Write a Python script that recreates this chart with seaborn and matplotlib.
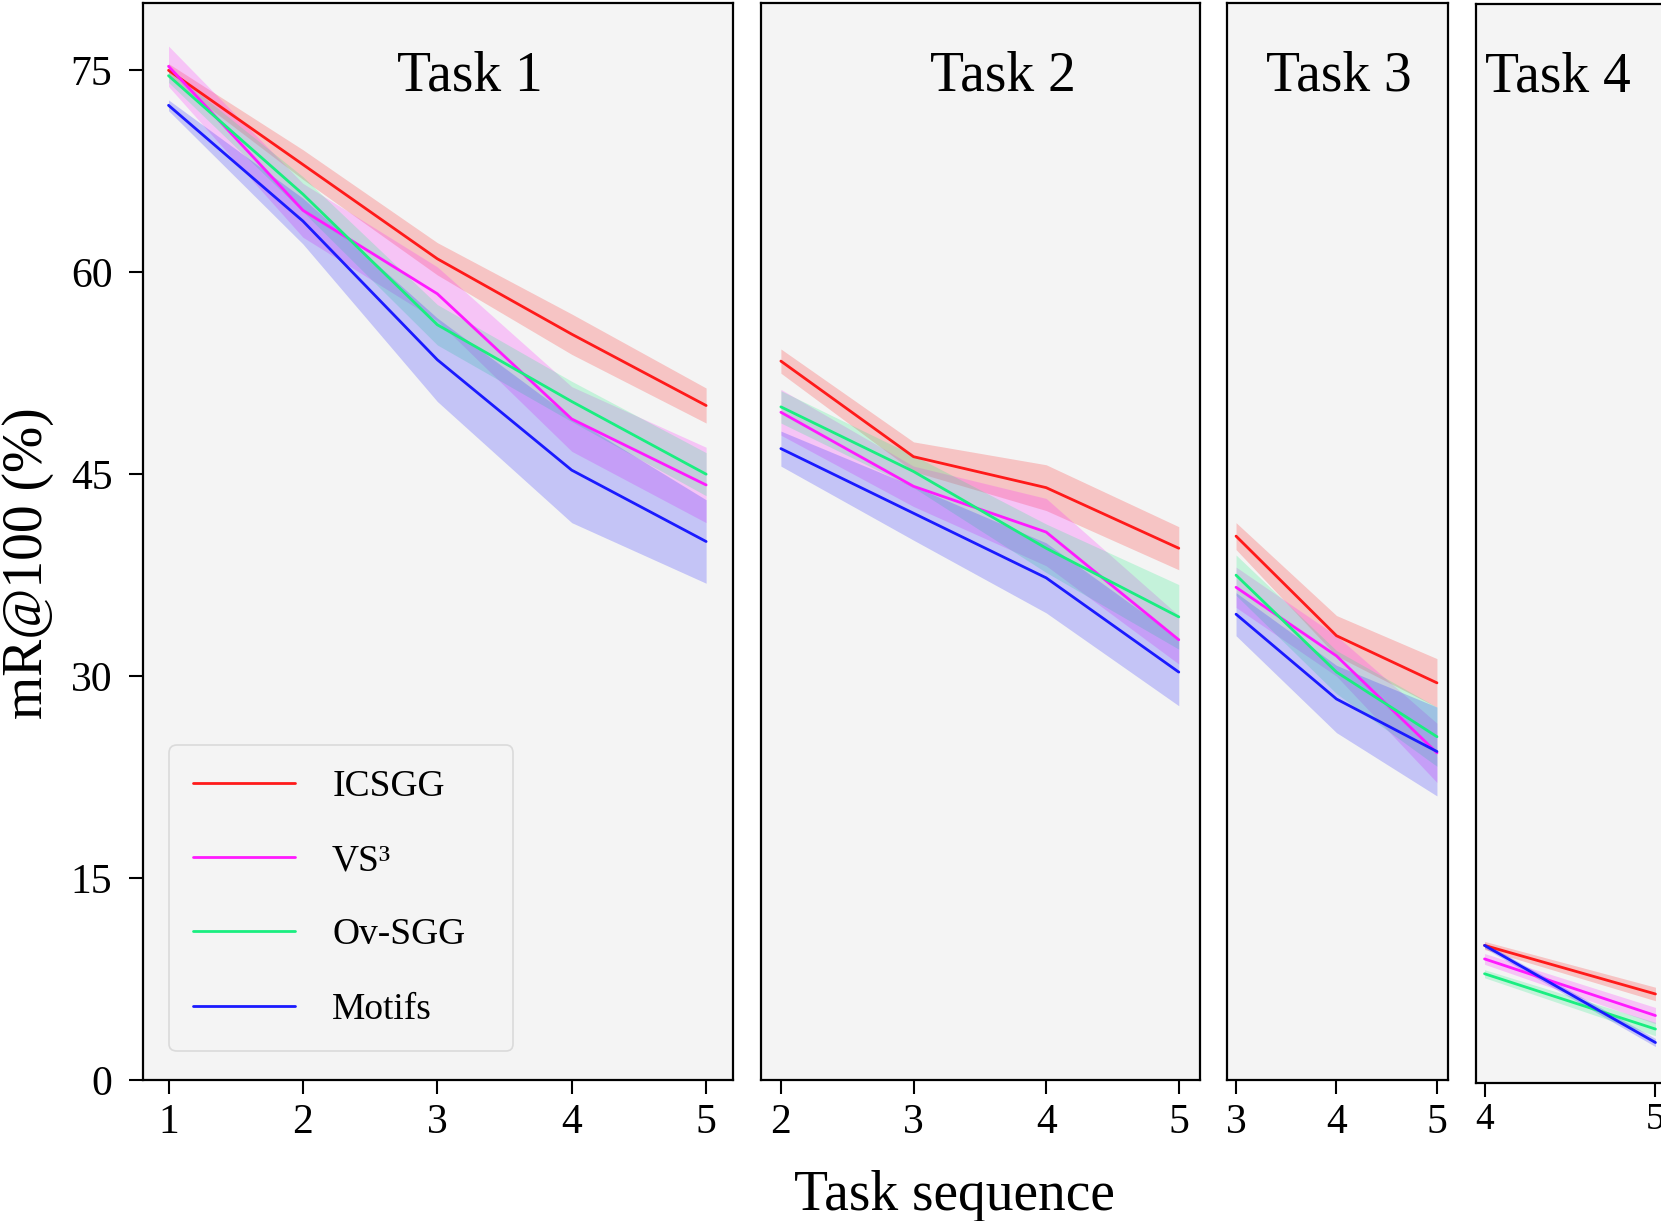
import matplotlib
matplotlib.use("Agg")
import matplotlib.pyplot as plt
import seaborn as sns
import pandas as pd

# ---------------- data ----------------
methods = ["ICSGG", "VS³", "Ov-SGG", "Motifs"]
task_names = ["Task 1", "Task 2", "Task 3", "Task 4"]
task_x = [[1, 2, 3, 4, 5], [2, 3, 4, 5], [3, 4, 5], [4, 5]]
x_ticks = [[1, 2, 3, 4, 5], [2, 3, 4, 5], [3, 4, 5], [4, 5]]
y_ticks = [0, 15, 30, 45, 60, 75]

icsgg_mean = [[75.0, 68.0, 61.0, 55.4, 50.1], [53.4, 46.3, 44.0, 39.5], [40.4, 33.0, 29.5], [10.2, 6.6]]
icsgg_err = [[0.5, 1.1, 1.2, 1.5, 1.3], [0.9, 1.1, 1.7, 1.6], [1.0, 1.5, 1.8], [0.3, 0.5]]

vs3_mean = [[75.3, 64.6, 58.4, 49.1, 44.2], [49.6, 44.1, 40.7, 32.7], [36.6, 31.5, 24.3], [9.2, 5.0]]
vs3_err = [[1.5, 2.0, 2.0, 2.4, 2.8], [1.7, 1.5, 2.5, 1.8], [1.5, 1.5, 2.2], [0.4, 0.6]]

ovsgg_mean = [[74.6, 65.8, 56.1, 50.4, 45.0], [50.0, 45.2, 39.5, 34.4], [37.5, 30.3, 25.5], [8.1, 4.0]]
ovsgg_err = [[0.5, 1.3, 1.5, 1.5, 1.6], [1.2, 1.2, 1.8, 2.4], [1.5, 1.6, 2.2], [0.3, 0.5]]

motifs_mean = [[72.4, 63.8, 53.5, 45.3, 40.0], [46.9, 42.1, 37.3, 30.3], [34.6, 28.3, 24.4], [10.2, 3.0]]
motifs_err = [[0.4, 1.7, 3.1, 3.9, 3.1], [1.3, 2.0, 2.6, 2.5], [1.6, 2.5, 3.3], [0.2, 0.3]]

colors = ["#ff1a1a", "#ff1aff", "#1aee80", "#1a1aff"]

# long table: each point stored as (mean - err, mean, mean + err); the median is the line,
# the 100% interval is the band.
means = [icsgg_mean, vs3_mean, ovsgg_mean, motifs_mean]
errs = [icsgg_err, vs3_err, ovsgg_err, motifs_err]
rows = []
for ti, tname in enumerate(task_names):
    for mi, m in enumerate(methods):
        for xi, xv in enumerate(task_x[ti]):
            mu = means[mi][ti][xi]
            e = errs[mi][ti][xi]
            for v in (mu - e, mu, mu + e):
                rows.append({"task": tname, "method": m, "x": xv, "value": v})
df = pd.DataFrame(rows)

# ---------------- style ----------------
sns.set_style("ticks")
plt.rcParams["font.family"] = ["Liberation Serif", "DejaVu Serif"]
plt.rcParams["axes.linewidth"] = 1.6
plt.rcParams["text.color"] = "black"
plt.rcParams["axes.labelcolor"] = "black"
plt.rcParams["xtick.color"] = "black"
plt.rcParams["ytick.color"] = "black"

W, H = 1661, 1221
fig = plt.figure(figsize=(W / 100, H / 100), dpi=100)

# panel boxes in pixels: left, right, top, bottom
boxes = [(143, 733, 3, 1080), (761, 1200, 3, 1080), (1227, 1448, 3, 1080), (1476, 1664, 4, 1083)]
xlims = [(0.81, 5.2), (1.85, 5.16), (2.91, 5.11), (3.95, 5.05)]
title_fx = [0.554, 0.551, 0.507, 0.433]
tick_sizes = [30, 30, 30, 27]
tick_pads = [7, 7, 7, 4]

palette = dict(zip(methods, colors))
axes = []
for ti, tname in enumerate(task_names):
    l, r, t, b = boxes[ti]
    ax = fig.add_axes([l / W, 1 - b / H, (r - l) / W, (b - t) / H])
    ax.set_facecolor("#f4f4f4")
    sub = df[df["task"] == tname]
    sns.lineplot(data=sub, x="x", y="value", hue="method", hue_order=methods,
                 palette=palette, estimator="median", errorbar=("pi", 100),
                 linewidth=2.0, ax=ax, legend=(ti == 0),
                 err_kws={"alpha": 0.22, "linewidth": 0})
    ax.set_xlim(*xlims[ti])
    ax.set_ylim(0, 80)
    ax.set_xticks(x_ticks[ti])
    ax.set_xlabel("")
    ax.set_ylabel("")
    for s in ax.spines.values():
        s.set_color("black")
        s.set_linewidth(1.6)
    ax.tick_params(axis="x", length=10, width=1.5, labelsize=tick_sizes[ti],
                   pad=tick_pads[ti], colors="black")
    if ti == 0:
        ax.set_yticks(y_ticks)
        ax.tick_params(axis="y", length=10, width=1.5, labelsize=30, pad=12, colors="black")
    else:
        ax.set_yticks([])
        ax.tick_params(axis="y", left=False, labelleft=False)
    ax.text(title_fx[ti], 0.919, tname, transform=ax.transAxes, ha="center",
            va="baseline", fontsize=40, color="black")
    axes.append(ax)

ax0 = axes[0]
handles, labels = ax0.get_legend_handles_labels()
# legend box spans pixels x 169..513, top at y 745 (panel 1: x 143..733, y 3..1080)
lx0 = (169 - 143) / 590
lx1 = (513 - 143) / 590
ltop = (1080 - 745) / 1077
leg = ax0.legend(handles, labels, loc="upper left", mode="expand",
                 bbox_to_anchor=(lx0, ltop - 0.3, lx1 - lx0, 0.3),
                 fontsize=27, frameon=True, fancybox=True, handlelength=2.7,
                 handletextpad=1.0, labelspacing=1.06, borderpad=0.65, borderaxespad=0.0)
leg.get_frame().set_facecolor("#f4f4f4")
leg.get_frame().set_edgecolor("#d4d4d4")
leg.get_frame().set_linewidth(1.2)
for txt in leg.get_texts():
    txt.set_color("black")
for ln in leg.get_lines():
    ln.set_linewidth(2.0)

fig.text(954 / W, 1 - 1210 / H, "Task sequence", ha="center", va="baseline",
         fontsize=40, color="black")
fig.text(28 / W, 1 - 563 / H, "mR@100 (%)", ha="center", va="center", rotation=90,
         fontsize=40, color="black")

fig.savefig("out.png", dpi=100)
